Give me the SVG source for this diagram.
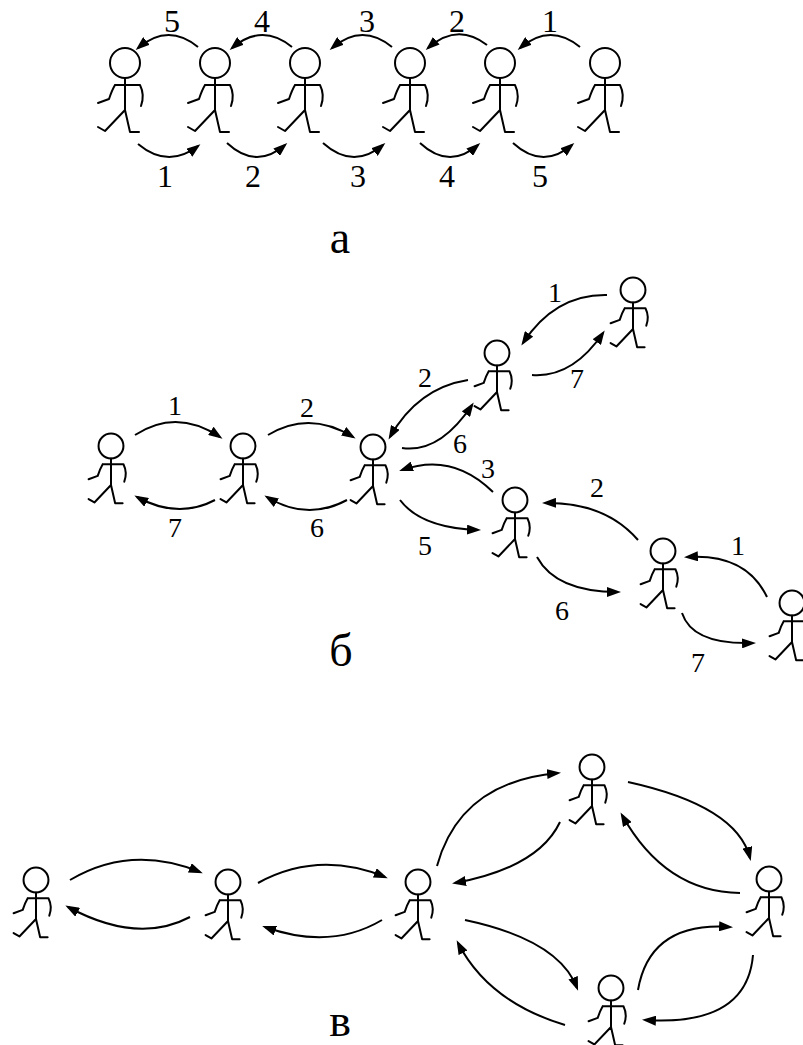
<svg xmlns="http://www.w3.org/2000/svg" xmlns:xlink="http://www.w3.org/1999/xlink" width="803" height="1045" viewBox="0 0 803 1045">
  <style>
    .fig { fill: none; stroke: #000; stroke-width: 2; stroke-linecap: round; stroke-linejoin: round; }
    .fig * { vector-effect: non-scaling-stroke; }
    .link { fill: none; stroke: #000; stroke-width: 2; marker-end: url(#tip); }
    .num { font-family: "Liberation Serif", "Times New Roman", serif; fill: #000; text-anchor: middle; }
    .na { font-size: 32px; }
    .nb { font-size: 28px; }
    .cap { font-family: "Liberation Serif", "Times New Roman", serif; font-size: 46px; fill: #000; text-anchor: middle; }
  </style>
  <defs>
    <marker id="tip" markerUnits="userSpaceOnUse" markerWidth="14" markerHeight="10" refX="11" refY="5" orient="auto">
      <path d="M0,0 L14,5 L0,10 z" fill="#000"/>
    </marker>
    <!-- walking stick man, head centred on the origin -->
    <g id="man" class="fig">
      <circle cx="0" cy="0" r="15"/>
      <path d="M0,15 V47 M-10,22 H15 M15,22 Q20,32 16,43 M-10,22 Q-13,27 -16,36 L-27,40 M-27,64 L-20,68 L0,47 L5,69 H14"/>
    </g>
  </defs>
  <rect width="803" height="1045" fill="#fff"/>

  <!-- chain a -->
  <g id="a1" transform="translate(125,63)"><use xlink:href="#man"/></g>
  <g id="a2" transform="translate(215,63)"><use xlink:href="#man"/></g>
  <g id="a3" transform="translate(305,63)"><use xlink:href="#man"/></g>
  <g id="a4" transform="translate(410,63)"><use xlink:href="#man"/></g>
  <g id="a5" transform="translate(500,63)"><use xlink:href="#man"/></g>
  <g id="a6" transform="translate(605,63)"><use xlink:href="#man"/></g>

  <!-- branch b -->
  <g id="b1" transform="translate(111,446) scale(0.83)"><use xlink:href="#man"/></g>
  <g id="b2" transform="translate(243,446) scale(0.83)"><use xlink:href="#man"/></g>
  <g id="b3" transform="translate(373,447) scale(0.83)"><use xlink:href="#man"/></g>
  <g id="b4" transform="translate(497,353) scale(0.83)"><use xlink:href="#man"/></g>
  <g id="b5" transform="translate(633,290) scale(0.83)"><use xlink:href="#man"/></g>
  <g id="b6" transform="translate(515,500) scale(0.83)"><use xlink:href="#man"/></g>
  <g id="b7" transform="translate(663,551) scale(0.83)"><use xlink:href="#man"/></g>
  <g id="b8" transform="translate(792,603) scale(0.83)"><use xlink:href="#man"/></g>

  <!-- ring c -->
  <g id="c1" transform="translate(36,880) scale(0.83)"><use xlink:href="#man"/></g>
  <g id="c2" transform="translate(228,882) scale(0.83)"><use xlink:href="#man"/></g>
  <g id="c3" transform="translate(418,882) scale(0.83)"><use xlink:href="#man"/></g>
  <g id="c4" transform="translate(592,767) scale(0.83)"><use xlink:href="#man"/></g>
  <g id="c5" transform="translate(769,879) scale(0.83)"><use xlink:href="#man"/></g>
  <g id="c6" transform="translate(611,988) scale(0.83)"><use xlink:href="#man"/></g>

  <g id="connectors">
    <!-- a: leftward passes above -->
    <path class="link" d="M198,47 Q168,22.5 138,48"/>
    <path class="link" d="M292,47 Q262,22.5 232,48"/>
    <path class="link" d="M392,47 Q362,22.5 332,48"/>
    <path class="link" d="M487,45 Q457.5,22 428,48"/>
    <path class="link" d="M580,47 Q550,22.5 520,48"/>
    <!-- a: rightward passes below -->
    <path class="link" d="M138,144 Q168,169 198,146"/>
    <path class="link" d="M227,143 Q256,170 285,145"/>
    <path class="link" d="M323,143 Q353,170 383,145"/>
    <path class="link" d="M420,143 Q449,170 478,145"/>
    <path class="link" d="M513,143 Q542.5,170 572,145"/>

    <!-- b -->
    <path class="link" d="M135,435 Q176.5,408 220,437"/>
    <path class="link" d="M268,435 Q309.5,410 353,437"/>
    <path class="link" d="M215,500 Q178,519.5 137,497"/>
    <path class="link" d="M347,500 Q307,521.5 267,497"/>
    <path class="link" d="M607,295 Q555,294 523,343"/>
    <path class="link" d="M532,375 Q572.5,378 603,333"/>
    <path class="link" d="M468,380 Q417.7,388 390,437"/>
    <path class="link" d="M402,448 Q439.7,453.5 472,405"/>
    <path class="link" d="M493,492 Q452.5,452 402,470"/>
    <path class="link" d="M400,500 Q421,528 478,530"/>
    <path class="link" d="M638,540 Q605,502 545,503"/>
    <path class="link" d="M537,557 Q556,592 618,592"/>
    <path class="link" d="M767,597 Q746,553 687,557"/>
    <path class="link" d="M682,613 Q692.5,645 753,643"/>

    <!-- c -->
    <path class="link" d="M70,880 Q131,844 200,872"/>
    <path class="link" d="M190,917 Q137.7,944.7 68,907"/>
    <path class="link" d="M258,883 Q318.5,850 385,877"/>
    <path class="link" d="M382,920 Q330.5,950.5 265,927"/>
    <path class="link" d="M437,866 Q460,782 558,773"/>
    <path class="link" d="M560,822 Q538.5,867.5 455,883"/>
    <path class="link" d="M628,782 Q737,806 750,858"/>
    <path class="link" d="M740,893 Q665,892 622,815"/>
    <path class="link" d="M465,920 Q559,940 577,988"/>
    <path class="link" d="M565,1025 Q488.5,1002 458,943"/>
    <path class="link" d="M638,990 Q650,921.5 730,927"/>
    <path class="link" d="M753,955 Q747,1026.5 645,1020"/>
  </g>

  <g id="labels">
    <text class="num na" x="172" y="32">5</text>
    <text class="num na" x="262" y="32">4</text>
    <text class="num na" x="367" y="32">3</text>
    <text class="num na" x="457" y="32">2</text>
    <text class="num na" x="550" y="32">1</text>
    <text class="num na" x="165" y="187">1</text>
    <text class="num na" x="253" y="187">2</text>
    <text class="num na" x="358" y="187">3</text>
    <text class="num na" x="447" y="187">4</text>
    <text class="num na" x="540" y="187">5</text>

    <text class="num nb" x="175" y="415">1</text>
    <text class="num nb" x="307" y="417">2</text>
    <text class="num nb" x="175" y="537">7</text>
    <text class="num nb" x="317" y="537">6</text>
    <text class="num nb" x="555" y="302">1</text>
    <text class="num nb" x="577" y="388">7</text>
    <text class="num nb" x="425" y="387">2</text>
    <text class="num nb" x="460" y="453">6</text>
    <text class="num nb" x="488" y="478">3</text>
    <text class="num nb" x="425" y="555">5</text>
    <text class="num nb" x="597" y="497">2</text>
    <text class="num nb" x="562" y="620">6</text>
    <text class="num nb" x="738" y="555">1</text>
    <text class="num nb" x="698" y="672">7</text>

    <text class="cap" x="340" y="253">а</text>
    <text class="cap" x="341" y="666">б</text>
    <text class="cap" x="340" y="1036">в</text>
  </g>
</svg>
